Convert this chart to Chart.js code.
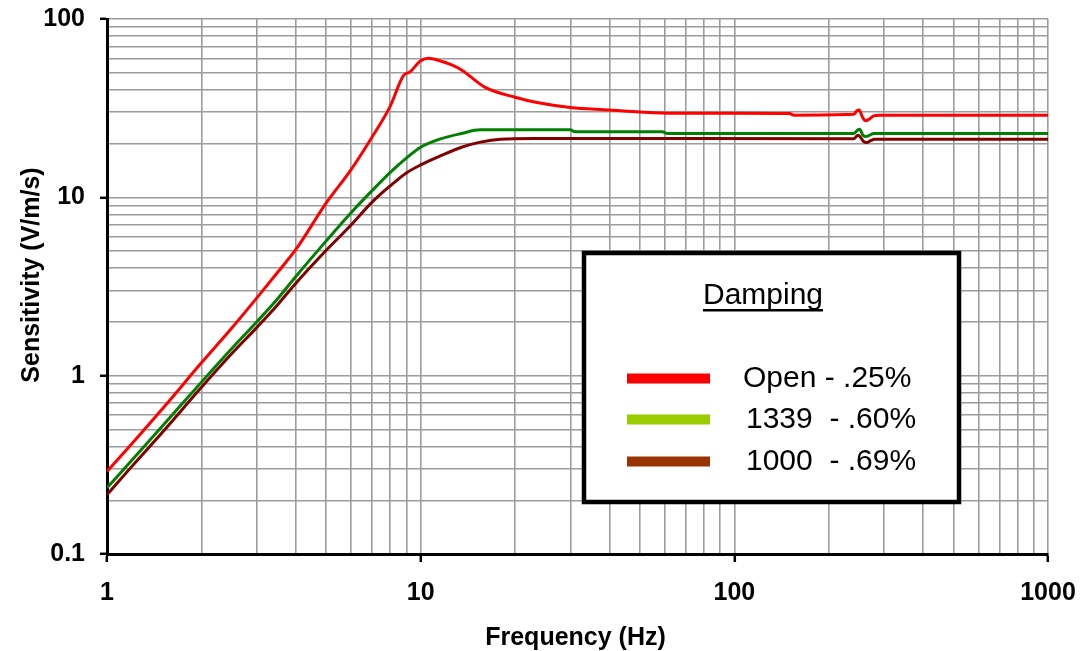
<!DOCTYPE html>
<html>
<head>
<meta charset="utf-8">
<script src="https://cdn.jsdelivr.net/npm/chart.js@4/dist/chart.umd.min.js"></script>
<style>
  html, body { margin: 0; padding: 0; background: #ffffff; }
  #c { display: block; }
</style>
</head>
<body>
<canvas id="c" width="1084" height="651"></canvas>
<script>
// ---- Data ----
const freqOpen  = [1, 1.2, 1.5, 2, 2.5, 3, 3.5, 4, 5, 6, 7, 8, 8.8, 9.25, 10, 10.6, 11.5, 12.5, 13.5, 16, 20, 23.5, 30, 40, 50, 64, 100, 150, 155, 240, 246, 250, 256, 262, 268, 278, 290, 1000];
const sensOpen  = [0.29, 0.415, 0.65, 1.18, 1.85, 2.72, 3.8, 5.1, 9.3, 14.3, 21.8, 32.5, 48, 50.5, 58.3, 60.2, 58.3, 55.5, 51.8, 41.5, 36.4, 34, 31.9, 30.9, 30.1, 29.6, 29.6, 29.5, 28.9, 29.2, 30.6, 30.9, 28.2, 26.9, 27.3, 28.6, 28.9, 28.9];

const freq1339  = [1, 1.2, 1.5, 2, 2.5, 3, 3.5, 4, 5, 6, 7, 8, 9, 10, 11.5, 13.5, 15.5, 20, 30, 31, 59, 61, 240, 247, 251, 257, 263, 270, 278, 1000];
const sens1339  = [0.235, 0.335, 0.52, 0.92, 1.42, 2.0, 2.7, 3.6, 5.7, 8.2, 10.9, 13.8, 16.6, 19.1, 21.2, 22.8, 23.9, 23.9, 23.9, 23.3, 23.3, 22.8, 22.8, 23.8, 24.1, 22.3, 21.9, 22.3, 22.8, 22.8];

const freq1000  = [1, 1.2, 1.5, 2, 2.5, 3, 3.5, 4, 5, 6, 7, 8, 9, 10, 11.5, 13.5, 15.5, 18, 23, 240, 248, 252, 258, 264, 272, 280, 1000];
const sens1000  = [0.215, 0.31, 0.48, 0.86, 1.33, 1.86, 2.5, 3.3, 5.05, 7.0, 9.4, 11.6, 13.7, 15.2, 17.0, 19.1, 20.4, 21.2, 21.4, 21.3, 22.3, 21.8, 20.6, 20.3, 20.8, 21.2, 21.2];

const xTickValues = [1, 10, 100, 1000];
const xTickLabels = ['1', '10', '100', '1000'];
const yTickValues = [0.1, 1, 10, 100];
const yTickLabels = ['0.1', '1', '10', '100'];

const seriesNames  = ['Open - .25%', '1339  - .60%', '1000  - .69%'];
const legendTitle  = 'Damping';
const xAxisTitle   = 'Frequency (Hz)';
const yAxisTitle   = 'Sensitivity (V/m/s)';

// ---- helpers ----
function toPoints(xs, ys) { return xs.map((x, i) => ({ x: x, y: ys[i] })); }
function logTicks(decades) {
  const out = [];
  for (let d = 0; d < decades.length - 1; d++) {
    for (let k = 1; k <= 9; k++) out.push(k === 1 ? decades[d] : decades[d] * k);
  }
  out.push(decades[decades.length - 1]);
  return out;
}
function isMajor(list, v) { return list.some(m => Math.abs(m - v) / m < 1e-9); }
function labelFor(values, labels, v) {
  for (let i = 0; i < values.length; i++) if (Math.abs(values[i] - v) / values[i] < 1e-9) return labels[i];
  return '';
}

const FONT = "'Liberation Sans', Arial, Helvetica, sans-serif";
const lineColors   = ['#ff0000', '#008000', '#800000'];
const legendColors = ['#ff0000', '#99cc00', '#993300'];

const overlay = {
  id: 'overlay',
  beforeDraw(chart) {
    const ctx = chart.ctx;
    ctx.save();
    ctx.fillStyle = '#ffffff';
    ctx.fillRect(0, 0, chart.width, chart.height);
    ctx.restore();
  },
  afterDraw(chart) {
    const ctx = chart.ctx;
    ctx.save();
    // axis titles
    ctx.fillStyle = '#000';
    ctx.font = "bold 25px " + FONT;
    ctx.textAlign = 'center';
    ctx.textBaseline = 'alphabetic';
    const ca = chart.chartArea;
    ctx.fillText(xAxisTitle, (ca.left + ca.right) / 2 - 2, 645);
    ctx.save();
    ctx.translate(39, 275);
    ctx.rotate(-Math.PI / 2);
    ctx.fillText(yAxisTitle, 0, 0);
    ctx.restore();

    // legend box
    ctx.fillStyle = '#ffffff';
    ctx.fillRect(584, 253, 375, 249);
    ctx.strokeStyle = '#000';
    ctx.lineWidth = 4.5;
    ctx.strokeRect(584, 253, 375, 249);

    ctx.fillStyle = '#000';
    ctx.font = "30px " + FONT;
    ctx.textAlign = 'center';
    ctx.fillText(legendTitle, 763, 304);
    const tw = ctx.measureText(legendTitle).width;
    ctx.fillRect(763 - tw / 2, 309, tw, 2.5);

    const rowsY = [378.5, 419.5, 461.5];
    const baseY = [387, 428, 470];
    const textX = [743, 746, 746];
    ctx.textAlign = 'left';
    for (let i = 0; i < seriesNames.length; i++) {
      ctx.fillStyle = legendColors[i];
      ctx.fillRect(627, rowsY[i] - 5, 83, 10);
      ctx.fillStyle = '#000';
      ctx.fillText(seriesNames[i], textX[i], baseY[i]);
    }
    ctx.restore();
  }
};

const gridColor = '#9c9c9c';

new Chart(document.getElementById('c'), {
  type: 'line',
  data: {
    datasets: [
      { label: seriesNames[0], data: toPoints(freqOpen, sensOpen), borderColor: lineColors[0] },
      { label: seriesNames[1], data: toPoints(freq1339, sens1339), borderColor: lineColors[1] },
      { label: seriesNames[2], data: toPoints(freq1000, sens1000), borderColor: lineColors[2] }
    ].map(d => Object.assign(d, { borderWidth: 3, pointRadius: 0, cubicInterpolationMode: 'monotone', fill: false }))
  },
  options: {
    responsive: false,
    animation: false,
    devicePixelRatio: 1,
    layout: { padding: { left: 0, top: 19, right: 36, bottom: 0 } },
    plugins: { legend: { display: false }, tooltip: { enabled: false }, title: { display: false } },
    scales: {
      x: {
        type: 'logarithmic',
        position: 'bottom',
        min: 1, max: 1000,
        afterBuildTicks: (s) => { s.ticks = logTicks(xTickValues).map(v => ({ value: v })); },
        afterFit: (s) => { s.height = 97; s.paddingLeft = 0; s.paddingRight = 0; s.paddingTop = 0; s.paddingBottom = 0; },
        ticks: {
          autoSkip: false, maxRotation: 0, minRotation: 0, padding: 16,
          color: '#000', font: { family: FONT, size: 25, weight: 'bold' },
          callback: (v) => labelFor(xTickValues, xTickLabels, v)
        },
        grid: {
          color: gridColor, lineWidth: 1.6, tickLength: 8, tickWidth: 2.5,
          tickColor: (c) => (c.tick && isMajor(xTickValues, c.tick.value)) ? '#000' : 'rgba(0,0,0,0)'
        },
        border: { display: true, color: '#000', width: 3 }
      },
      y: {
        type: 'logarithmic',
        position: 'left',
        min: 0.1, max: 100,
        afterBuildTicks: (s) => { s.ticks = logTicks(yTickValues).map(v => ({ value: v })); },
        afterFit: (s) => { s.width = 107; s.paddingLeft = 0; s.paddingRight = 0; s.paddingTop = 0; s.paddingBottom = 0; },
        ticks: {
          autoSkip: false, padding: 15,
          color: '#000', font: { family: FONT, size: 25, weight: 'bold' },
          callback: (v) => labelFor(yTickValues, yTickLabels, v)
        },
        grid: {
          color: gridColor, lineWidth: 1.6, tickLength: 7, tickWidth: 2.5,
          tickColor: (c) => (c.tick && isMajor(yTickValues, c.tick.value)) ? '#000' : 'rgba(0,0,0,0)'
        },
        border: { display: true, color: '#000', width: 3 }
      }
    }
  },
  plugins: [overlay]
});
</script>
</body>
</html>
